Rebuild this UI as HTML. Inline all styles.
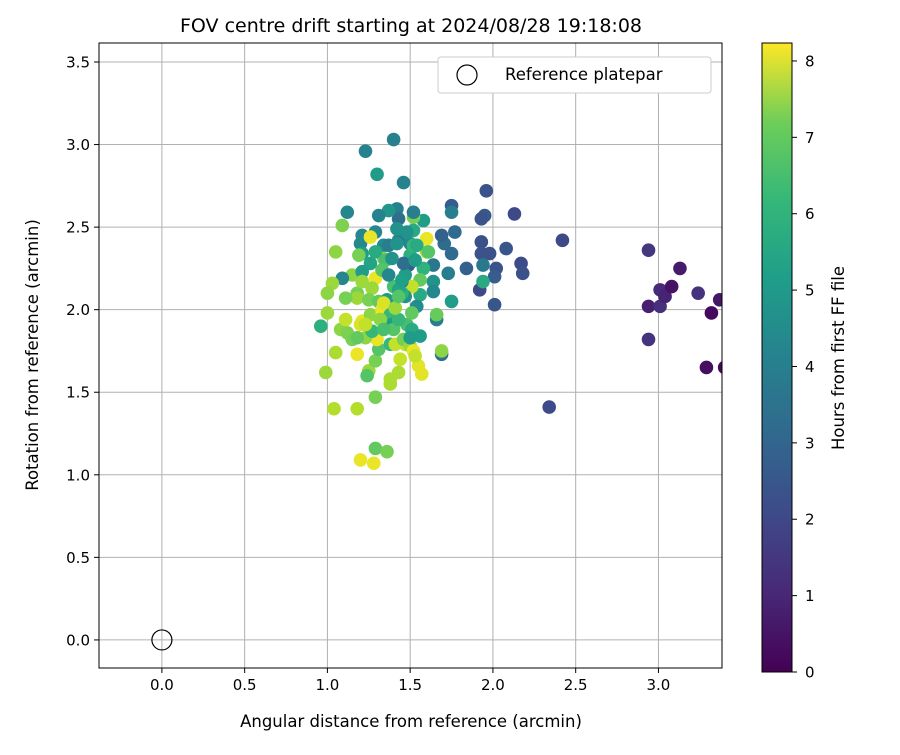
<!DOCTYPE html>
<html><head><meta charset="utf-8"><style>
body{margin:0;background:#fff;font-family:"Liberation Sans","DejaVu Sans",sans-serif}
svg text{font-family:"DejaVu Sans","Liberation Sans",sans-serif;fill:#000}
</style></head><body>
<svg id="chart" width="900" height="750" viewBox="0 0 900 750">
<defs>
<clipPath id="pc"><rect x="99" y="43" width="623" height="625"/></clipPath>
<linearGradient id="vir" x1="0" y1="1" x2="0" y2="0">
<stop offset="0" stop-color="#440154"/><stop offset="0.125" stop-color="#482878"/><stop offset="0.25" stop-color="#3e4a89"/><stop offset="0.375" stop-color="#31688e"/><stop offset="0.5" stop-color="#26828e"/><stop offset="0.625" stop-color="#1f9e89"/><stop offset="0.75" stop-color="#35b779"/><stop offset="0.875" stop-color="#6ece58"/><stop offset="1" stop-color="#fde725"/>
</linearGradient>
</defs>
<text x="411" y="32" font-size="19" text-anchor="middle">FOV centre drift starting at 2024/08/28 19:18:08</text>
<g id="grid"></g>
<g id="pts" clip-path="url(#pc)"></g>
<rect x="99" y="43" width="623" height="625" fill="none" stroke="#000" stroke-width="1"/>
<g id="ticks"></g>
<text x="411" y="727" font-size="16.5" text-anchor="middle">Angular distance from reference (arcmin)</text>
<text transform="translate(38,355) rotate(-90)" font-size="16.5" text-anchor="middle">Rotation from reference (arcmin)</text>
<g>
<rect x="438" y="57" width="273" height="36" rx="3" fill="#fff" stroke="#ccc"/>
<circle cx="467" cy="75" r="10" fill="none" stroke="#000" stroke-width="1.2"/>
<text x="505" y="80" font-size="16.5">Reference platepar</text>
</g>
<rect x="762" y="43" width="30" height="629" fill="url(#vir)" stroke="#000" stroke-width="1"/>
<g id="cticks"></g>
<text transform="translate(844,358) rotate(-90)" font-size="16.5" text-anchor="middle">Hours from first FF file</text>
</svg>
<script>
const xTicks=[0,0.5,1,1.5,2,2.5,3];
const yTicks=[0,0.5,1,1.5,2,2.5,3,3.5];
const cTicks=[0,1,2,3,4,5,6,7,8];
const xVals=[2.94,2.94,2.94,3.01,3.01,3.04,3.08,3.13,3.24,3.29,3.32,3.37,3.40,
2.42,2.34,2.13,2.17,2.18,2.08,2.02,2.01,2.01,1.96,1.95,1.93,1.98,1.93,1.93,1.92,1.94,1.94,1.84,1.75,1.75,1.77,1.706,1.69,1.75,1.73,1.75,1.69,1.69,1.66,1.66,1.64,1.64,1.64,1.60,1.60,1.58,1.58,1.56,1.56,1.54,1.52,1.52,1.52,1.50,1.50,1.49,1.51,1.47,1.46,1.47,1.45,1.43,1.42,1.43,1.42,1.37,1.40,1.46,1.30,1.23,1.31,1.29,1.34,1.37,1.42,1.12,1.09,1.21,1.20,1.26,1.21,1.19,1.26,1.34,1.29,1.05,1.15,1.09,1.21,1.29,1.27,1.18,1.18,1.11,1.03,1.00,1.00,0.96,1.08,1.12,1.15,1.05,0.99,1.04,1.18,1.29,1.29,1.36,1.20,1.28,1.18,1.21,1.20,1.25,1.24,1.29,1.31,1.30,1.23,1.27,1.26,1.25,1.31,1.33,1.33,1.36,1.34,1.38,1.39,1.40,1.38,1.38,1.38,1.43,1.44,1.41,1.47,1.46,1.50,1.52,1.55,1.57,1.53,1.48,1.43,1.51,1.50,1.56,1.41,1.45,1.40,1.43,1.53,1.52,1.54,1.61,1.48,1.35,1.33,1.39,1.37,1.11,1.23,1.18,1.51,1.21,1.45,1.43,1.32,1.34];
const yVals=[2.36,2.02,1.82,2.12,2.02,2.08,2.14,2.25,2.10,1.65,1.98,2.06,1.65,
2.42,1.41,2.58,2.28,2.22,2.37,2.25,2.20,2.03,2.72,2.57,2.55,2.34,2.41,2.34,2.12,2.17,2.27,2.25,2.63,2.59,2.47,2.40,2.45,2.34,2.22,2.05,1.73,1.75,1.94,1.97,2.27,2.17,2.11,2.35,2.43,2.54,2.25,2.18,2.09,2.02,2.56,2.59,2.48,2.40,2.33,2.27,2.14,2.21,2.28,2.08,2.17,2.42,2.61,2.55,2.49,2.60,3.03,2.77,2.82,2.96,2.57,2.47,2.39,2.39,2.40,2.59,2.51,2.45,2.40,2.44,2.34,2.33,2.28,2.31,2.35,2.35,2.21,2.19,2.23,2.19,2.13,2.10,2.07,2.07,2.16,2.10,1.98,1.90,1.88,1.86,1.82,1.74,1.62,1.40,1.40,1.47,1.16,1.14,1.09,1.07,1.73,1.93,1.91,1.63,1.60,1.69,1.76,1.82,1.83,1.87,1.97,2.06,2.05,1.98,2.00,2.06,2.04,1.97,1.91,1.88,1.79,1.58,1.55,1.62,1.70,1.79,1.79,1.82,1.78,1.75,1.66,1.61,1.72,1.91,1.94,1.88,1.83,1.84,2.01,2.10,2.14,2.12,2.30,2.39,2.39,2.35,2.47,2.30,2.24,2.31,2.21,1.94,1.91,1.83,1.98,2.17,2.18,2.08,1.94,1.88];
const hVals=[1.3,0.7,1.2,1.0,1.1,0.8,0.4,0.6,1.2,0.3,0.2,0.5,0.2,
1.8,1.9,1.8,1.9,2.0,2.2,2.1,2.4,2.2,2.1,2.3,2.1,2.0,2.0,2.1,1.8,5.0,3.3,2.5,2.4,3.5,2.8,2.9,2.6,2.8,3.5,4.5,3.0,6.8,3.5,6.3,3.3,4.2,3.8,7.2,8.0,4.5,5.3,6.2,5.0,4.0,6.5,3.5,5.0,3.8,5.2,2.5,7.5,4.5,3.0,4.2,3.5,3.5,3.6,3.0,4.2,4.3,3.6,3.7,4.5,3.7,3.7,3.8,4.0,3.5,4.2,3.8,6.6,3.8,3.9,8.0,4.5,6.5,4.8,6.8,5.0,6.8,6.8,3.8,4.5,8.0,7.0,6.5,7.0,6.5,7.0,6.8,7.0,5.2,6.8,6.6,6.5,7.2,7.0,7.3,7.3,6.5,6.2,6.5,8.0,8.0,8.0,8.0,7.8,7.0,6.0,6.5,6.0,8.0,6.8,5.5,6.8,6.5,6.2,7.5,8.0,4.5,7.8,5.5,4.5,6.0,5.5,7.2,7.2,7.2,7.5,7.5,7.5,6.5,7.0,8.0,7.9,7.9,7.5,5.8,5.5,5.0,4.5,4.5,7.0,5.2,5.8,4.8,4.5,5.5,5.0,6.0,4.2,5.8,6.0,4.2,3.8,7.5,7.5,6.2,6.2,7.0,4.6,6.0,6.8,5.8];
const X0=99,X1=722,Y0=43,Y1=668;
const xMin=-0.38,xMax=3.384,yMin=-0.17,yMax=3.615,hMax=8.235;
const sx=v=>X0+(v-xMin)/(xMax-xMin)*(X1-X0);
const sy=v=>Y1-(v-yMin)/(yMax-yMin)*(Y1-Y0);
const sc=v=>672-v/hMax*629;
const vir=[[68,1,84],[72,40,120],[62,74,137],[49,104,142],[38,130,142],[31,158,137],[53,183,121],[110,206,88],[181,222,43],[253,231,37]];
function col(h){let t=Math.max(0,Math.min(1,h/hMax))*(vir.length-1);let i=Math.min(Math.floor(t),vir.length-2),f=t-i;const a=vir[i],b=vir[i+1];return 'rgb('+a.map((c,k)=>Math.round(c+(b[k]-c)*f)).join(',')+')';}
const NS='http://www.w3.org/2000/svg';
function mk(t,a,p){const e=document.createElementNS(NS,t);for(const k in a)e.setAttribute(k,a[k]);p.appendChild(e);return e;}
const grid=document.getElementById('grid'),ticks=document.getElementById('ticks'),pts=document.getElementById('pts'),ct=document.getElementById('cticks');
xTicks.forEach(v=>{const x=sx(v);
const g=mk('line',{x1:x,x2:x,y1:Y0,y2:Y1,stroke:'#b0b0b0','stroke-width':1},grid);


mk('line',{x1:x,x2:x,y1:Y1,y2:Y1+5,stroke:'#000'},ticks);
const t=mk('text',{x:x,y:Y1+22,'font-size':15,'text-anchor':'middle'},ticks);t.textContent=v.toFixed(1);

});
yTicks.forEach(v=>{const y=sy(v);
const g=mk('line',{x1:X0,x2:X1,y1:y,y2:y,stroke:'#b0b0b0','stroke-width':1},grid);


mk('line',{x1:X0-5,x2:X0,y1:y,y2:y,stroke:'#000'},ticks);
const t=mk('text',{x:X0-9,y:y+5.5,'font-size':15,'text-anchor':'end'},ticks);t.textContent=v.toFixed(1);

});
xVals.forEach((v,i)=>{const c=mk('circle',{cx:sx(v),cy:sy(yVals[i]),r:6.8,fill:col(hVals[i])},pts);

});
const ref=mk('circle',{cx:sx(0),cy:sy(0),r:10,fill:'none',stroke:'#000','stroke-width':1.2},document.getElementById('chart'));


cTicks.forEach(v=>{const y=sc(v);
mk('line',{x1:792,x2:797,y1:y,y2:y,stroke:'#000'},ct);
const t=mk('text',{x:805,y:y+5.5,'font-size':15},ct);t.textContent=v;

});
</script>
</body></html>
